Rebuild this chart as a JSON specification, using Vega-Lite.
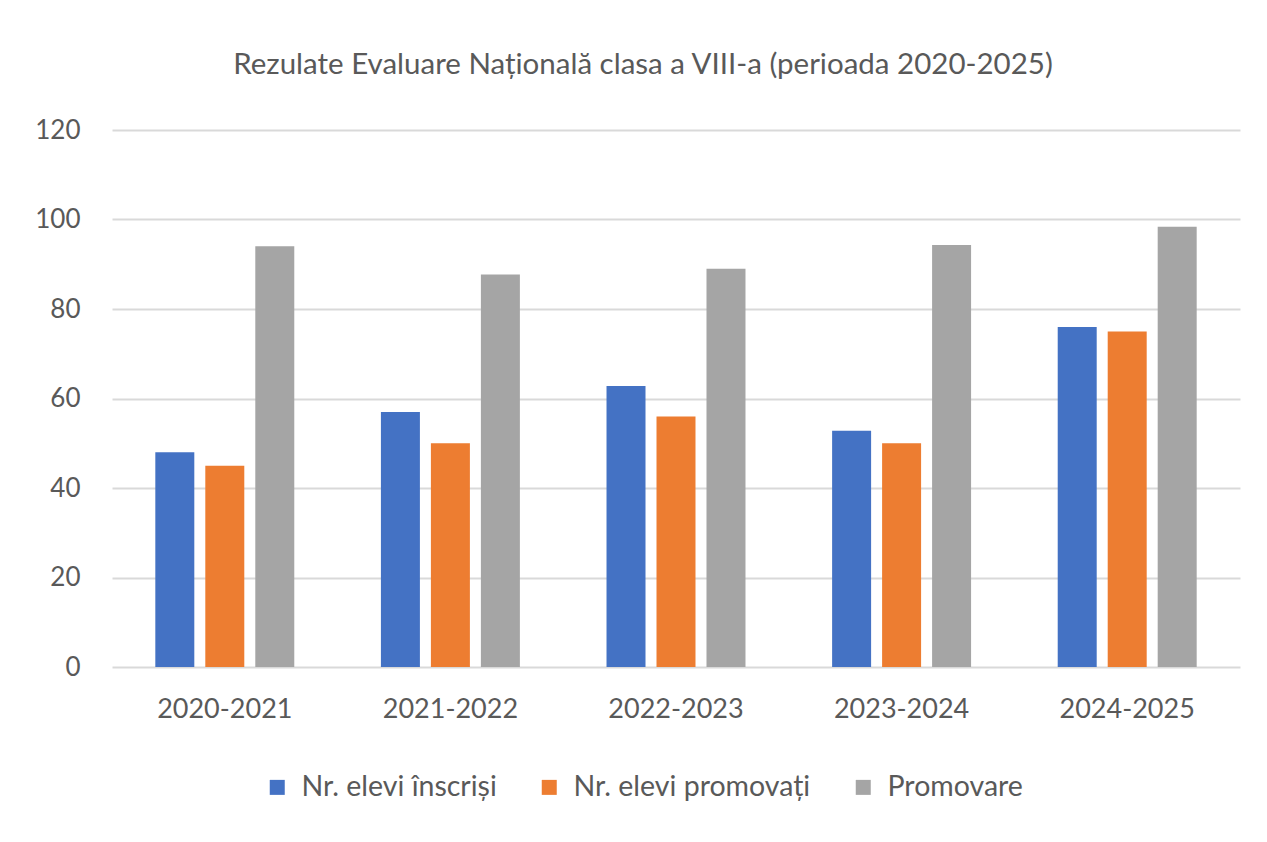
{
  "$schema": "https://vega.github.io/schema/vega-lite/v6.json",
  "autosize": "none",
  "width": 1128,
  "height": 537,
  "padding": {"left": 112, "top": 130, "right": 27, "bottom": 175},
  "background": "white",
  "title": {
    "text": "Rezulate Evaluare Națională clasa a VIII-a (perioada 2020-2025)",
    "font": "Lato",
    "fontSize": 29.5,
    "fontWeight": "normal",
    "color": "#595959",
    "anchor": "middle",
    "dx": -33,
    "offset": 37
  },
  "data": {
    "values": [
      {"an": "2020-2021", "serie": "Nr. elevi înscriși", "valoare": 48},
      {"an": "2020-2021", "serie": "Nr. elevi promovați", "valoare": 45},
      {"an": "2020-2021", "serie": "Promovare", "valoare": 94},
      {"an": "2021-2022", "serie": "Nr. elevi înscriși", "valoare": 57},
      {"an": "2021-2022", "serie": "Nr. elevi promovați", "valoare": 50},
      {"an": "2021-2022", "serie": "Promovare", "valoare": 87.7},
      {"an": "2022-2023", "serie": "Nr. elevi înscriși", "valoare": 62.8},
      {"an": "2022-2023", "serie": "Nr. elevi promovați", "valoare": 56},
      {"an": "2022-2023", "serie": "Promovare", "valoare": 89},
      {"an": "2023-2024", "serie": "Nr. elevi înscriși", "valoare": 52.8},
      {"an": "2023-2024", "serie": "Nr. elevi promovați", "valoare": 50},
      {"an": "2023-2024", "serie": "Promovare", "valoare": 94.3},
      {"an": "2024-2025", "serie": "Nr. elevi înscriși", "valoare": 76},
      {"an": "2024-2025", "serie": "Nr. elevi promovați", "valoare": 75},
      {"an": "2024-2025", "serie": "Promovare", "valoare": 98.4}
    ]
  },
  "mark": {"type": "bar"},
  "encoding": {
    "x": {
      "field": "an",
      "type": "nominal",
      "sort": null,
      "scale": {"paddingInner": 0.384, "paddingOuter": 0.192},
      "axis": {
        "title": null,
        "labelAngle": 0,
        "labelFont": "Lato",
        "labelFontSize": 27,
        "labelColor": "#595959",
        "labelPadding": 29,
        "domain": false,
        "ticks": false,
        "grid": false
      }
    },
    "xOffset": {
      "field": "serie",
      "type": "nominal",
      "sort": ["Nr. elevi înscriși", "Nr. elevi promovați", "Promovare"],
      "scale": {"paddingInner": 0.22, "paddingOuter": 0}
    },
    "y": {
      "field": "valoare",
      "type": "quantitative",
      "scale": {"domain": [0, 120], "nice": false},
      "axis": {
        "title": null,
        "values": [0, 20, 40, 60, 80, 100, 120],
        "labelFont": "Lato",
        "labelFontSize": 26,
        "labelColor": "#595959",
        "labelPadding": 32,
        "domain": false,
        "ticks": false,
        "grid": true,
        "gridColor": "#D9D9D9",
        "gridWidth": 2
      }
    },
    "color": {
      "field": "serie",
      "type": "nominal",
      "scale": {
        "domain": ["Nr. elevi înscriși", "Nr. elevi promovați", "Promovare"],
        "range": ["#4472C4", "#ED7D31", "#A5A5A5"]
      },
      "legend": {
        "title": null,
        "orient": "none",
        "legendX": 151,
        "legendY": 643,
        "direction": "horizontal",
        "symbolType": "square",
        "symbolSize": 225,
        "symbolStrokeWidth": 0,
        "labelFont": "Lato",
        "labelFontSize": 28.5,
        "labelLimit": 0,
        "labelColor": "#595959",
        "labelOffset": 10,
        "columnPadding": 38
      }
    }
  },
  "config": {
    "view": {"stroke": null}
  }
}
